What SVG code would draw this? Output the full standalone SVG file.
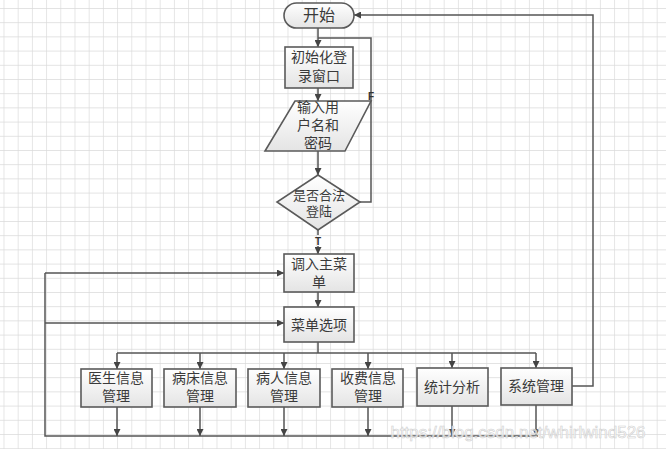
<svg xmlns="http://www.w3.org/2000/svg" width="666" height="449" viewBox="0 0 666 449">
<defs>
<pattern id="grid" x="3.5" y="8" width="14.2" height="14.2" patternUnits="userSpaceOnUse">
<path d="M0,0 H14.2 M0,0 V14.2" fill="none" stroke="#d9d9d9" stroke-width="1.3"/>
</pattern>
<linearGradient id="g" x1="0" y1="0" x2="0" y2="1">
<stop offset="0" stop-color="#ffffff"/>
<stop offset="1" stop-color="#e4e4e4"/>
</linearGradient>
<marker id="a" viewBox="0 0 8 8" refX="8" refY="4" markerWidth="7" markerHeight="7" markerUnits="userSpaceOnUse" orient="auto">
<path d="M0,0 L8,4 L0,8 z" fill="#444"/>
</marker>
</defs>
<style>
.n{fill:url(#g);stroke:#5a5a5a;stroke-width:1.6}
.t{font-family:"Liberation Sans","Noto Sans CJK SC",sans-serif;font-size:14px;fill:#3a3a3a;text-anchor:middle}
.s{font-size:13px}
.c{fill:none;stroke:#555;stroke-width:1.5}
.l{font-family:"Liberation Sans",sans-serif;font-size:10px;font-weight:bold;fill:#333;text-anchor:middle}
</style>
<rect width="666" height="449" fill="#fff"/>
<rect width="666" height="449" fill="url(#grid)"/>
<g id="connectors">
<path class="c" d="M318,28 V47" marker-end="url(#a)"/>
<path class="c" d="M360,202 H371 V38 H318"/>
<path class="c" d="M318,88 V101" marker-end="url(#a)"/>
<path class="c" d="M318,151 V175" marker-end="url(#a)"/>
<path class="c" d="M318,230 V235"/>
<path class="c" d="M318,246 V254" marker-end="url(#a)"/>
<path class="c" d="M318,292 V307" marker-end="url(#a)"/>
<path class="c" d="M45,273 H284" marker-end="url(#a)"/>
<path class="c" d="M45,323 H284" marker-end="url(#a)"/>
<path class="c" d="M45,273 V436 H538"/>
<path class="c" d="M318,342 V353"/>
<path class="c" d="M117,353 H536"/>
<path class="c" d="M117,353 V369" marker-end="url(#a)"/>
<path class="c" d="M200,353 V369" marker-end="url(#a)"/>
<path class="c" d="M284,353 V369" marker-end="url(#a)"/>
<path class="c" d="M368,353 V369" marker-end="url(#a)"/>
<path class="c" d="M452,353 V368" marker-end="url(#a)"/>
<path class="c" d="M536,353 V368" marker-end="url(#a)"/>
<path class="c" d="M117,407 V436" marker-end="url(#a)"/>
<path class="c" d="M200,407 V436" marker-end="url(#a)"/>
<path class="c" d="M284,407 V436" marker-end="url(#a)"/>
<path class="c" d="M368,407 V436" marker-end="url(#a)"/>
<path class="c" d="M452,406 V436" marker-end="url(#a)"/>
<path class="c" d="M536,405 V436" marker-end="url(#a)"/>
<path class="c" d="M572,386 H593 V15 H354" marker-end="url(#a)"/>
<text class="l" x="371" y="100">F</text>
<text class="l" x="318" y="245">T</text>
</g>
<g id="start">
<rect class="n" x="284" y="3" width="70" height="25" rx="12.5"/>
<text class="t" x="319" y="21" style="font-size:16px">开始</text>
</g>
<g id="init">
<rect class="n" x="285" y="47" width="68" height="41"/>
<text class="t" x="319" y="62">初始化登</text>
<text class="t" x="319" y="81">录窗口</text>
</g>
<g id="input">
<polygon class="n" points="295,101 371,101 345,151 265,151"/>
<text class="t" x="318" y="112">输入用</text>
<text class="t" x="318" y="130">户名和</text>
<text class="t" x="318" y="148">密码</text>
</g>
<g id="check">
<polygon class="n" points="318,175 360,202 318,230 277,202"/>
<text class="t s" x="319" y="200">是否合法</text>
<text class="t s" x="319" y="216">登陆</text>
</g>
<g id="mainmenu">
<rect class="n" x="284" y="254" width="70" height="38"/>
<text class="t" x="319" y="269">调入主菜</text>
<text class="t" x="319" y="287">单</text>
</g>
<g id="menuopt">
<rect class="n" x="284" y="307" width="70" height="35"/>
<text class="t" x="319" y="330">菜单选项</text>
</g>
<g id="doctor">
<rect class="n" x="81" y="369" width="71" height="38"/>
<text class="t" x="116" y="383">医生信息</text>
<text class="t" x="116" y="401">管理</text>
</g>
<g id="bed">
<rect class="n" x="164" y="369" width="72" height="38"/>
<text class="t" x="200" y="383">病床信息</text>
<text class="t" x="200" y="401">管理</text>
</g>
<g id="patient">
<rect class="n" x="248" y="369" width="72" height="38"/>
<text class="t" x="284" y="383">病人信息</text>
<text class="t" x="284" y="401">管理</text>
</g>
<g id="fee">
<rect class="n" x="332" y="369" width="71" height="38"/>
<text class="t" x="368" y="383">收费信息</text>
<text class="t" x="368" y="401">管理</text>
</g>
<g id="stats">
<rect class="n" x="417" y="368" width="71" height="38"/>
<text class="t" x="452" y="392">统计分析</text>
</g>
<g id="system">
<rect class="n" x="501" y="368" width="71" height="37"/>
<text class="t" x="536" y="391">系统管理</text>
</g>
<text x="518" y="438" font-family="Liberation Sans,sans-serif" font-size="17" text-anchor="middle" fill="#ffffff" fill-opacity="0.75" stroke="#cfcfcf" stroke-width="0.6">https://blog.csdn.net/whirlwind526</text>
</svg>
